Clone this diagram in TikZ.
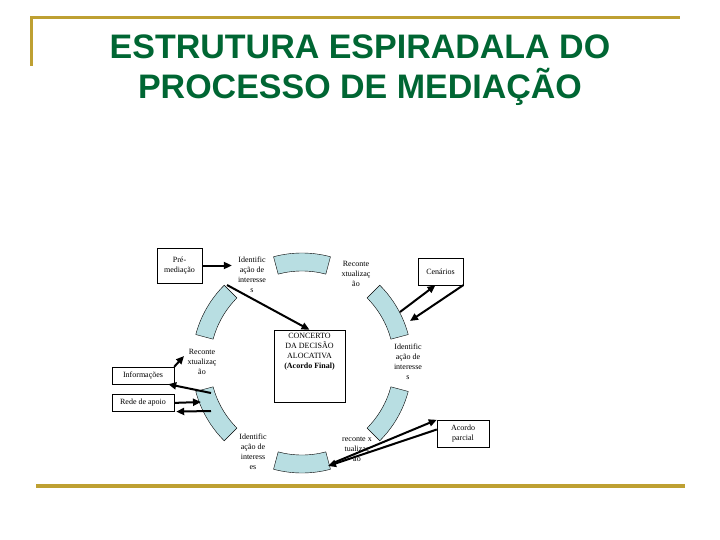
\documentclass[tikz,border=0pt]{standalone}
\usepackage{fontspec}
\setmainfont{Liberation Serif}
\newfontfamily\titlefont{Liberation Sans}
\usetikzlibrary{positioning,arrows.meta}
\definecolor{titlegreen}{RGB}{0,102,51}
\definecolor{rulegold}{RGB}{190,160,50}
\definecolor{seglight}{RGB}{184,222,226}
\begin{document}
\begin{tikzpicture}[x=1pt,y=-1pt,box/.style={draw,thin,fill=white,inner sep=1pt,align=center,font=\fontsize{8}{10}\selectfont},lbl/.style={inner sep=0pt,align=center,font=\fontsize{8}{10}\selectfont},seg/.style={draw,thin,fill=seglight},arr/.style={-{Triangle[length=8pt,width=7pt]},line width=2pt}]
	\useasboundingbox (0,0) rectangle (720,540);

	% frame rules and title
	\draw[rulegold,line width=3pt] (30,18) -- (680,18);
	\draw[rulegold,line width=3pt] (31,18) -- (31,66);
	\draw[rulegold,line width=4pt] (36,486) -- (685,486);
	\node[text=titlegreen,font=\titlefont\bfseries\fontsize{34}{40}\selectfont,align=center]	(title)	at (360,70)	{ESTRUTURA ESPIRADALA DO\\PROCESSO DE MEDIAÇÃO};

	% ring of six segments
	\foreach \a in {90,30,-30,-90,150,210}
		\draw[seg] ([shift={(302,363)}]\a-15:110) arc (\a-15:\a+15:110) -- ([shift={(302,363)}]\a+15:92) arc (\a+15:\a-15:92) -- cycle;

	\coordinate (s1) at (227,285);
	\coordinate (c1) at (400,312);
	\coordinate (c2) at (410,321);
	\coordinate (r1) at (184,356);
	\coordinate (s2) at (211,393);
	\coordinate (s3) at (201,402);
	\coordinate (s4) at (211,411);
	\coordinate (s5) at (333,463);
	\coordinate (s6) at (328,466);

	\node[box,minimum width=45pt,minimum height=35pt]	(pre)	at (179.5,265.5)	{Pré-\\mediação};
	\node[box,minimum width=71pt,minimum height=72pt]	(concerto)	at (309.5,366)	{\parbox[t][66pt][t]{68pt}{\centering CONCERTO\\DA DECISÃO\\ALOCATIVA\\\textbf{(Acordo Final)}}};
	\node[box,minimum width=45pt,minimum height=27pt]	(cen)	at (440.5,271.5)	{Cenários};
	\node[box,minimum width=62pt,minimum height=17pt]	(inf)	at (143,375.5)	{Informações};
	\node[box,minimum width=62pt,minimum height=17pt,below=10pt of inf]	(rede)	{Rede de apoio};
	\node[box,minimum width=52pt,minimum height=27pt]	(aco)	at (463,433.5)	{Acordo\\parcial};

	\node[lbl]	(idA)	at (252,275)	{Identific\\ação de\\interesse\\s};
	\node[lbl]	(rcA)	at (356,274)	{Reconte\\xtualizaç\\ão};
	\node[lbl]	(idB)	at (408,362)	{Identific\\ação de\\interesse\\s};
	\node[lbl]	(rcB)	at (202,362)	{Reconte\\xtualizaç\\ão};
	\node[lbl]	(idC)	at (253,452)	{Identific\\ação de\\interess\\es};
	\node[lbl]	(rcC)	at (357,449)	{reconte x\\tualizaç\\ão};

	\draw[arr,shorten >=6pt] (pre.east) -- (idA.west |- pre.east);
	\draw[arr] (s1) -- (concerto.north);
	\draw[arr] (c1) -- ([xshift=-5pt]cen.south);
	\draw[arr] (cen.south east) -- (c2);
	\draw[arr] (inf.north east) -- (r1);
	\draw[arr] (s2) -- ([xshift=-6pt]inf.south east);
	\draw[arr] (rede.east) -- (s3);
	\draw[arr] (s4) -- ([xshift=2pt]rede.south east);
	\draw[arr] (s5) -- (aco.north west);
	\draw[arr] ([yshift=4pt]aco.west) -- (s6);
\end{tikzpicture}
\end{document}
